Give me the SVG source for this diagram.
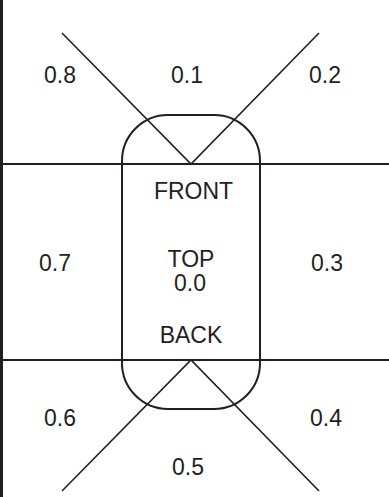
<svg xmlns="http://www.w3.org/2000/svg" width="389" height="497" viewBox="0 0 389 497">
<style>
.ln{stroke:#231f20;fill:none}
.t{font-family:"Liberation Sans",Arial,sans-serif;font-size:23px;fill:#231f20;text-anchor:middle}
</style>
<rect width="389" height="497" fill="#fff"/>
<g id="connectors">
<line class="ln" x1="1.5" y1="0" x2="1.5" y2="497" stroke-width="3"/>
<line class="ln" x1="0" y1="164" x2="389" y2="164" stroke-width="2.2"/>
<line class="ln" x1="0" y1="360" x2="389" y2="360" stroke-width="2.2"/>
<polyline class="ln" points="62,33 191,164 319,33" stroke-width="1.6"/>
<polyline class="ln" points="62,491 191,360 319,491" stroke-width="1.6"/>
</g>
<g id="car">
<rect class="ln" x="122" y="115" width="138" height="294" rx="46" ry="46" stroke-width="2"/>
<text class="t" x="193.5" y="198.5">FRONT</text>
<text class="t" x="191" y="267">TOP</text>
<text class="t" x="190" y="291">0.0</text>
<text class="t" x="191" y="342.5">BACK</text>
</g>
<g id="z08"><text class="t" x="60" y="83">0.8</text></g>
<g id="z01"><text class="t" x="187" y="83">0.1</text></g>
<g id="z02"><text class="t" x="325" y="83">0.2</text></g>
<g id="z07"><text class="t" x="55" y="271">0.7</text></g>
<g id="z03"><text class="t" x="327" y="271">0.3</text></g>
<g id="z06"><text class="t" x="60" y="426">0.6</text></g>
<g id="z04"><text class="t" x="326" y="426">0.4</text></g>
<g id="z05"><text class="t" x="188" y="475">0.5</text></g>
</svg>
